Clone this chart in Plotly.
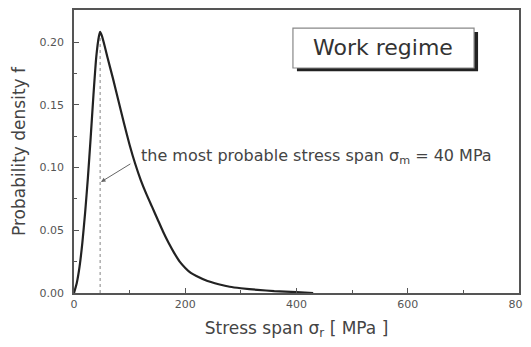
import plotly.graph_objects as go

stress = [0, 5, 10, 15, 20, 25, 30, 35, 40, 45, 47, 50, 55, 60, 70, 80, 90, 100, 110, 120, 130, 140,
          150, 160, 170, 180, 190, 200, 210, 220, 240, 260, 280, 300, 330, 360, 400, 430]
density = [0, 0.008, 0.021, 0.040, 0.064, 0.092, 0.124, 0.158, 0.188, 0.205, 0.208, 0.205, 0.197,
           0.188, 0.171, 0.153, 0.135, 0.118, 0.103, 0.090, 0.079, 0.069, 0.059, 0.049, 0.040,
           0.032, 0.025, 0.020, 0.016, 0.0135, 0.0095, 0.007, 0.005, 0.0038, 0.0025, 0.0015,
           0.0007, 0]
mode_x = 47
mode_f = 0.208

x_ticks = [0, 200, 400, 600, 800]
y_ticks = [0.00, 0.05, 0.10, 0.15, 0.20]

font = "DejaVu Sans, Liberation Sans, sans-serif"
axcol = "#555555"
txtcol = "#444444"

fig = go.Figure()
fig.add_trace(go.Scatter(x=[mode_x, mode_x], y=[0, mode_f], mode="lines",
                         line=dict(color="#999999", width=1.2, dash="dot"), showlegend=False))
fig.add_trace(go.Scatter(x=stress, y=density, mode="lines",
                         line=dict(color="#222222", width=2.2, shape="spline", smoothing=0.5),
                         showlegend=False))

fig.add_annotation(x=48.5, y=0.0885, ax=104, ay=0.1036, axref="x", ayref="y",
                   xref="x", yref="y", text="", showarrow=True, arrowhead=2, arrowsize=0.9,
                   arrowwidth=1, arrowcolor="#666666")
fig.add_annotation(x=0.146, y=0.484, xref="paper", yref="paper", xanchor="left", yanchor="middle",
                   text="the most probable stress span σ<sub>m</sub> = 40 MPa", showarrow=False,
                   font=dict(family=font, size=16, color=txtcol))
# box with shadow
fig.add_shape(type="rect", xref="paper", yref="paper", x0=0.501, x1=0.908, y0=0.784, y1=0.922,
              line=dict(width=0), fillcolor="#222222")
fig.add_shape(type="rect", xref="paper", yref="paper", x0=0.492, x1=0.899, y0=0.795, y1=0.936,
              line=dict(color="#888888", width=1.2), fillcolor="white")
fig.add_annotation(x=0.694, y=0.866, xref="paper", yref="paper", xanchor="center", yanchor="middle",
                   text="Work regime", showarrow=False,
                   font=dict(family=font, size=22, color="#333333"))

fig.update_xaxes(range=[0, 800], tickvals=x_ticks, ticks="inside", ticklen=5, tickcolor=axcol,
                 minor=dict(dtick=100, ticks="inside", ticklen=3, tickcolor=axcol),
                 showline=True, linecolor=axcol, linewidth=1.5, mirror=True, showgrid=False,
                 zeroline=False, automargin=False,
                 tickfont=dict(family=font, size=11, color="#555555"),
                 title=dict(text="Stress span σ<sub>r</sub> [ MPa ]", standoff=12,
                            font=dict(family=font, size=17, color=txtcol)))
fig.update_yaxes(range=[0, 0.2255], tickvals=y_ticks, tickformat=".2f", ticks="inside", ticklen=5,
                 tickcolor=axcol, ticklabelstandoff=6,
                 minor=dict(dtick=0.025, ticks="inside", ticklen=3, tickcolor=axcol),
                 showline=True, linecolor=axcol, linewidth=1.5, mirror=True, showgrid=False,
                 zeroline=False, automargin=False,
                 tickfont=dict(family=font, size=11, color="#555555"),
                 title=dict(text="Probability density f", standoff=10,
                            font=dict(family=font, size=17, color=txtcol)))

# page body has an 8px margin, so the figure is shifted; compensate in size/margins
fig.update_layout(width=531, height=339, margin=dict(l=66, r=20, t=2, b=54),
                  plot_bgcolor="white", paper_bgcolor="white")
fig.write_html("out.html")
